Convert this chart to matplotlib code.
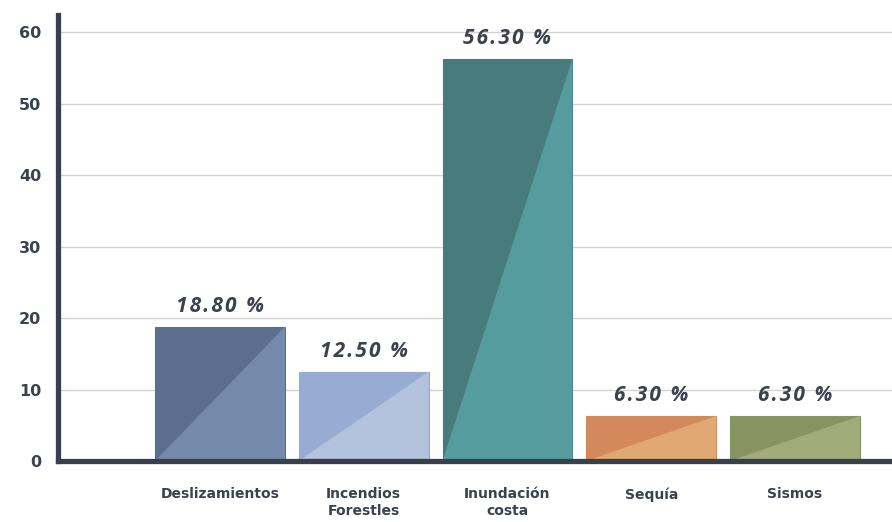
import matplotlib
matplotlib.use("Agg")
import matplotlib.pyplot as plt
from matplotlib.patches import Polygon

categories = ["Deslizamientos", "Incendios\nForestles", "Inundación\ncosta", "Sequía", "Sismos"]
values = [18.8, 12.5, 56.3, 6.3, 6.3]
value_labels = ["18.80 %", "12.50 %", "56.30 %", "6.30 %", "6.30 %"]
yticks = [0, 10, 20, 30, 40, 50, 60]

dark_colors = ["#5b6e8f", "#98acd3", "#477b7c", "#d4895c", "#879462"]
light_colors = ["#7589ab", "#b3c3de", "#569b9e", "#e0a873", "#a2ac7a"]

TEXT = "#3b424d"
AXIS = "#3a404b"
FAM = ["Open Sans", "DejaVu Sans"]


def spaced(s, sep="\u200a"):
    return sep.join(s)


fig = plt.figure(figsize=(8.92, 5.22), dpi=100)
ax = fig.add_axes([58 / 892, 61 / 522, 834 / 892, 446 / 522])

x = list(range(len(categories)))
bars = ax.bar(x, values, width=0.904, color=dark_colors, edgecolor=dark_colors,
              linewidth=0.8, zorder=3)
for b, lc in zip(bars, light_colors):
    x0, w, h = b.get_x(), b.get_width(), b.get_height()
    tri = Polygon([(x0, 0), (x0 + w, h), (x0 + w, 0)], closed=True,
                  facecolor=lc, edgecolor="none", zorder=3.5)
    ax.add_patch(tri)

for xi, v, lab in zip(x, values, value_labels):
    ax.annotate(spaced(lab), (xi, v), xytext=(0, 7), textcoords="offset points",
                ha="center", va="bottom", fontsize=15, fontweight="bold",
                fontstyle="italic", color=TEXT, family=FAM, zorder=5)

ax.set_xlim(-1.127, 4.675)
ax.set_ylim(0, 62.4)
ax.set_yticks(yticks)
ax.set_yticklabels([str(t) for t in yticks], fontsize=11.5, fontweight="bold",
                   family="DejaVu Sans", color=TEXT)
ax.set_xticks(x)
ax.set_xticklabels(categories, fontsize=10, fontweight="bold", family="DejaVu Sans",
                   color=TEXT, linespacing=1.2, va="top")
ax.tick_params(axis="both", length=0)
ax.tick_params(axis="y", pad=12)
ax.tick_params(axis="x", pad=19)

ax.grid(axis="y", color="#d3d3d3", linewidth=1.0, zorder=0)
ax.set_axisbelow(True)
for s in ["top", "right"]:
    ax.spines[s].set_visible(False)
for s in ["left", "bottom"]:
    ax.spines[s].set_color(AXIS)
    ax.spines[s].set_linewidth(3.8)
    ax.spines[s].set_zorder(6)

fig.savefig("out.png", dpi=100)
